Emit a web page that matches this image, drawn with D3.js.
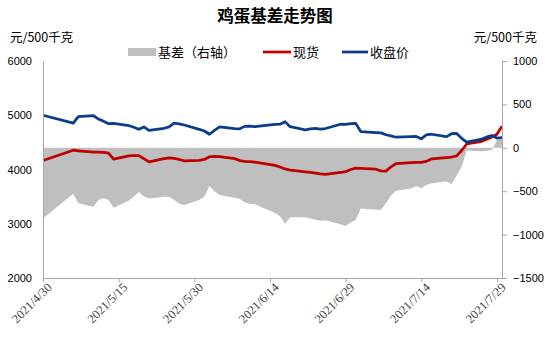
<!DOCTYPE html>
<meta charset="utf-8">
<head>
    <meta charset="utf-8">
    <title>鸡蛋基差走势图</title>
    <script src="https://d3js.org/d3.v7.min.js" charset="utf-8"></script>
    <style>
        html, body { margin: 0; padding: 0; background: #fff; }
        svg { display: block; }
        .cjk { font-family: "Noto Sans CJK SC", sans-serif; }
        .axis path, .axis line { stroke: #a6a6a6; }
        .axis text { font-family: Arial, "Liberation Sans", sans-serif; font-size: 11px; fill: #000; }
        .x-axis text { font-family: "Liberation Serif", "DejaVu Serif", serif; font-size: 12.5px; fill: #404040; }
    </style>
</head>
<body>
<svg width="550" height="351"></svg>
<script>

// 数据
var dates = ["2021/4/30","2021/5/6","2021/5/7","2021/5/10","2021/5/11","2021/5/12","2021/5/13","2021/5/14",
    "2021/5/17","2021/5/18","2021/5/19","2021/5/20","2021/5/21","2021/5/24","2021/5/25","2021/5/26","2021/5/27","2021/5/28",
    "2021/5/31","2021/6/1","2021/6/2","2021/6/3","2021/6/4","2021/6/7","2021/6/8","2021/6/9","2021/6/10","2021/6/11",
    "2021/6/15","2021/6/16","2021/6/17","2021/6/18","2021/6/21","2021/6/22","2021/6/23","2021/6/24","2021/6/25",
    "2021/6/28","2021/6/29","2021/6/30","2021/7/1","2021/7/2","2021/7/5","2021/7/6","2021/7/7","2021/7/8","2021/7/9",
    "2021/7/12","2021/7/13","2021/7/14","2021/7/15","2021/7/16","2021/7/19","2021/7/20","2021/7/21","2021/7/22","2021/7/23",
    "2021/7/26","2021/7/27","2021/7/28","2021/7/29","2021/7/30"];

// 收盘价
var closePrice = [5000,4855,4975,4995,4930,4890,4845,4850,
    4810,4780,4740,4785,4720,4760,4785,4855,4840,4820,
    4740,4710,4650,4720,4785,4755,4750,4795,4800,4790,
    4830,4835,4880,4790,4730,4750,4760,4745,4755,
    4835,4830,4845,4850,4700,4680,4675,4640,4620,4595,
    4605,4610,4565,4640,4650,4605,4660,4665,4575,4505,
    4560,4600,4625,4580,4590];

// 现货
var spotPrice = [4165,4355,4345,4320,4318,4315,4300,4190,
    4250,4258,4255,4200,4140,4200,4215,4205,4185,4160,
    4170,4185,4235,4240,4238,4200,4165,4150,4145,4135,
    4075,4045,4010,3990,3955,3945,3935,3920,3910,
    3945,3960,4000,4025,4020,4005,3975,3970,4050,4110,
    4125,4130,4130,4150,4195,4220,4230,4250,4350,4470,
    4520,4560,4600,4650,4800];

// 基差（右轴）
var basis = [-815,-530,-640,-680,-600,-580,-600,-690,
    -610,-560,-510,-560,-585,-565,-565,-600,-645,-660,
    -600,-560,-440,-500,-545,-575,-590,-630,-645,-650,
    -750,-790,-875,-800,-800,-815,-830,-840,-835,
    -880,-900,-860,-830,-700,-715,-715,-640,-550,-495,
    -470,-440,-465,-430,-410,-385,-420,-320,-215,-30,
    -40,-35,-25,90,110];

var tickDates = ["2021/4/30","2021/5/15","2021/5/30","2021/6/14","2021/6/29","2021/7/14","2021/7/29"];
var leftTicks = [2000,3000,4000,5000,6000];
var rightTicks = [-1500,-1000,-500,0,500,1000];

/****************************
 画图
****************************/
var svg = d3.select("svg"),
    margin = {top: 61, right: 48, bottom: 73, left: 43},
    width = +svg.attr("width") - margin.left - margin.right,
    height = +svg.attr("height") - margin.top - margin.bottom;

var parseDate = d3.timeParse("%Y/%m/%d");
var fmt = d3.timeFormat("%Y/%-m/%-d");

var data = dates.map(function(d, i) {
    return {date: parseDate(d), close: closePrice[i], spot: spotPrice[i], basis: basis[i]};
});

var x = d3.scaleTime()
    .domain(d3.extent(data, d => d.date))
    .range([0, width]);
var yL = d3.scaleLinear().domain([2000, 6000]).range([height, 0]);
var yR = d3.scaleLinear().domain([-1500, 1000]).range([height, 0]);

var g = svg.append("g")
    .attr("transform", "translate(" + margin.left + "," + margin.top + ")");

// 基差面积
var area = d3.area()
    .x(d => x(d.date))
    .y0(yR(0))
    .y1(d => yR(d.basis));

g.append("path")
    .datum(data)
    .attr("fill", "#bfbfbf")
    .attr("d", area);

// 折线
var lineSpot = d3.line().x(d => x(d.date)).y(d => yL(d.spot));
var lineClose = d3.line().x(d => x(d.date)).y(d => yL(d.close));

g.append("path")
    .datum(data)
    .attr("fill", "none")
    .attr("stroke", "#c00000")
    .attr("stroke-width", 2.75)
    .attr("stroke-linejoin", "round")
    .attr("d", lineSpot);

g.append("path")
    .datum(data)
    .attr("fill", "none")
    .attr("stroke", "#0b3c8c")
    .attr("stroke-width", 2.75)
    .attr("stroke-linejoin", "round")
    .attr("d", lineClose);

// 坐标轴
var xAxis = d3.axisBottom(x)
    .tickValues(tickDates.map(parseDate))
    .tickFormat(fmt)
    .tickSize(4)
    .tickSizeOuter(0);

g.append("g")
    .attr("class", "axis x-axis")
    .attr("transform", "translate(0," + height + ")")
    .call(xAxis)
    .selectAll("text")
    .attr("text-anchor", "end")
    .attr("transform", "translate(6,7) rotate(-45)")
    .attr("dy", "0.35em")
    .attr("y", 0)
    .attr("x", 0);

g.append("g")
    .attr("class", "axis y-axis")
    .call(d3.axisLeft(yL).tickValues(leftTicks).tickSize(0).tickPadding(11).tickFormat(d3.format("d")));

g.append("g")
    .attr("class", "axis y2-axis")
    .attr("transform", "translate(" + width + ",0)")
    .call(d3.axisRight(yR).tickValues(rightTicks).tickSize(5).tickSizeOuter(0).tickPadding(6)
        .tickFormat(d => d < 0 ? "\u2212" + Math.abs(d) : d));

// 标题与单位
svg.append("text")
    .attr("class", "cjk")
    .attr("x", 275).attr("y", 22)
    .attr("text-anchor", "middle")
    .attr("font-size", 16.5)
    .attr("font-weight", "bold")
    .text("鸡蛋基差走势图");

svg.append("text")
    .attr("class", "cjk")
    .attr("x", 10).attr("y", 42)
    .attr("font-size", 12.5)
    .text("元/500千克");

svg.append("text")
    .attr("class", "cjk")
    .attr("x", 537).attr("y", 42)
    .attr("text-anchor", "end")
    .attr("font-size", 12.5)
    .text("元/500千克");

// 图例
var legend = svg.append("g").attr("class", "cjk").attr("font-size", 13);
legend.append("rect").attr("x", 128).attr("y", 48).attr("width", 28).attr("height", 8).attr("fill", "#bfbfbf");
legend.append("text").attr("x", 158).attr("y", 57).text("基差（右轴）");
legend.append("line").attr("x1", 263).attr("x2", 291).attr("y1", 52).attr("y2", 52)
    .attr("stroke", "#c00000").attr("stroke-width", 2.75);
legend.append("text").attr("x", 293).attr("y", 57).text("现货");
legend.append("line").attr("x1", 342).attr("x2", 368).attr("y1", 52).attr("y2", 52)
    .attr("stroke", "#0b3c8c").attr("stroke-width", 2.75);
legend.append("text").attr("x", 370).attr("y", 57).text("收盘价");

</script>
</body>
</html>
